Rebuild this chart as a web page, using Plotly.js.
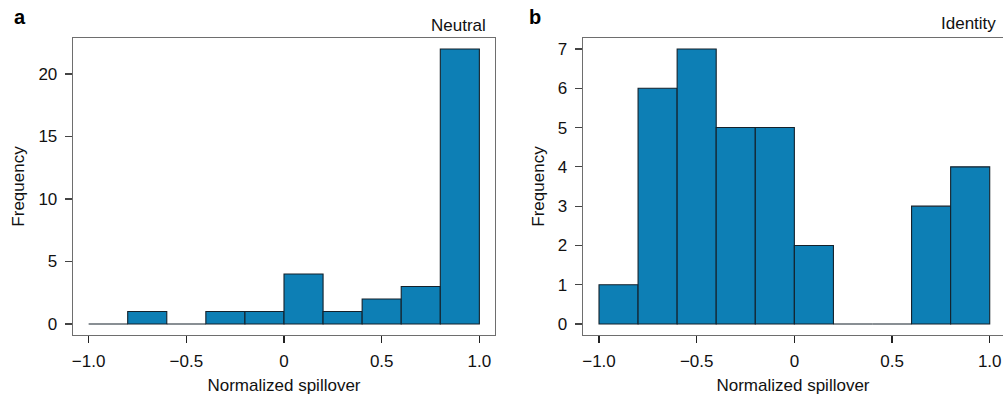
<!DOCTYPE html>
<html>
<head>
<meta charset="utf-8">
<script src="https://cdn.plot.ly/plotly-3.0.1.min.js"></script>
<style>html,body{margin:0;padding:0;background:#fff;}#chart{width:1003px;height:395px;}</style>
</head>
<body>
<div id="chart"></div>
<script>
// Bin edges shared by both histograms
const binEdges = [-1.0, -0.8, -0.6, -0.4, -0.2, 0.0, 0.2, 0.4, 0.6, 0.8, 1.0];
// Panel a: Neutral
const neutralCounts = [0, 1, 0, 1, 1, 4, 1, 2, 3, 22];
// Panel b: Identity
const identityCounts = [1, 6, 7, 5, 5, 2, 0, 0, 3, 4];
const xTickVals = [-1.0, -0.5, 0, 0.5, 1.0];
const xTickText = ['\u22121.0', '\u22120.5', '0', '0.5', '1.0'];
const yTicksA = [0, 5, 10, 15, 20];
const yTicksB = [0, 1, 2, 3, 4, 5, 6, 7];
const panelTitles = ['Neutral', 'Identity'];
const panelLetters = ['a', 'b'];

const FONT = 'Liberation Sans, Arial, sans-serif';
const FS = 17;
const fill = '#0d7fb5';
const edge = '#14212b';

function barTraces(counts, xa, ya) {
  const centers = [], widths = [], vals = [];
  const zx = [], zy = [];
  for (let i = 0; i < counts.length; i++) {
    const c = (binEdges[i] + binEdges[i + 1]) / 2;
    const w = binEdges[i + 1] - binEdges[i];
    if (counts[i] > 0) { centers.push(c); widths.push(w); vals.push(counts[i]); }
    else { zx.push(binEdges[i], binEdges[i + 1], null); zy.push(0, 0, null); }
  }
  return [
    {type: 'bar', x: centers, y: vals, width: widths, xaxis: xa, yaxis: ya,
     marker: {color: fill, line: {color: edge, width: 1.1}}, hoverinfo: 'x+y', showlegend: false},
    {type: 'scatter', mode: 'lines', x: zx, y: zy, xaxis: xa, yaxis: ya,
     line: {color: edge, width: 1.1}, hoverinfo: 'skip', showlegend: false, connectgaps: false}
  ];
}

const data = [].concat(barTraces(neutralCounts, 'x', 'y'), barTraces(identityCounts, 'x2', 'y2'));

const W = 1003, H = 395;
const yDom = [(H - 335) / H, (H - 38) / H];

function xAxis(domain, range, anchor) {
  return {
    domain: domain, range: range, anchor: anchor,
    tickvals: xTickVals, ticktext: xTickText,
    ticks: 'outside', ticklen: 7, tickwidth: 1.1, tickcolor: '#222',
    showline: true, linecolor: '#6e6e6e', linewidth: 1.3, mirror: true,
    showgrid: false, zeroline: false, fixedrange: true,
    tickfont: {family: FONT, size: FS, color: '#111'},
    ticklabelstandoff: 3,
    title: {text: 'Normalized spillover', font: {family: FONT, size: FS, color: '#111'}, standoff: 11}
  };
}
function yAxis(domain, range, anchor, tv, mirror) {
  return {
    domain: domain, range: range, anchor: anchor,
    tickvals: tv, ticks: 'outside', ticklen: 7, tickwidth: 1.1, tickcolor: '#444',
    showline: true, linecolor: '#6e6e6e', linewidth: 1.3, mirror: mirror,
    showgrid: false, zeroline: false, fixedrange: true,
    tickfont: {family: FONT, size: FS, color: '#111'},
    ticklabelstandoff: 4,
    title: {text: 'Frequency', font: {family: FONT, size: FS, color: '#111'}, standoff: 9}
  };
}

const layout = {
  width: W, height: H,
  margin: {l: 0, r: 0, t: 0, b: 0},
  paper_bgcolor: '#fff', plot_bgcolor: '#fff',
  bargap: 0,
  showlegend: false,
  xaxis: xAxis([73 / W, 495 / W], [-1.08, 1.08], 'y'),
  yaxis: yAxis(yDom, [-0.88, 22.88], 'x', yTicksA, true),
  xaxis2: xAxis([583 / W, 1], [-1.0819, 1.068], 'y2'),
  yaxis2: yAxis(yDom, [-0.28, 7.28], 'x2', yTicksB, false),
  annotations: [
    {text: '<b>' + panelLetters[0] + '</b>', xref: 'paper', yref: 'paper', x: 20 / W, y: 1 - 17 / H,
     xanchor: 'center', yanchor: 'middle', showarrow: false, font: {family: FONT, size: 20, color: '#000'}},
    {text: '<b>' + panelLetters[1] + '</b>', xref: 'paper', yref: 'paper', x: 535 / W, y: 1 - 17 / H,
     xanchor: 'center', yanchor: 'middle', showarrow: false, font: {family: FONT, size: 20, color: '#000'}},
    {text: panelTitles[0], xref: 'paper', yref: 'paper', x: 488 / W, y: 1 - 25 / H,
     xanchor: 'right', yanchor: 'middle', showarrow: false, font: {family: FONT, size: FS, color: '#111'}},
    {text: panelTitles[1], xref: 'paper', yref: 'paper', x: 998 / W, y: 1 - 24 / H,
     xanchor: 'right', yanchor: 'middle', showarrow: false, font: {family: FONT, size: FS, color: '#111'}}
  ]
};

Plotly.newPlot('chart', data, layout, {displayModeBar: false, staticPlot: true});
</script>
</body>
</html>
